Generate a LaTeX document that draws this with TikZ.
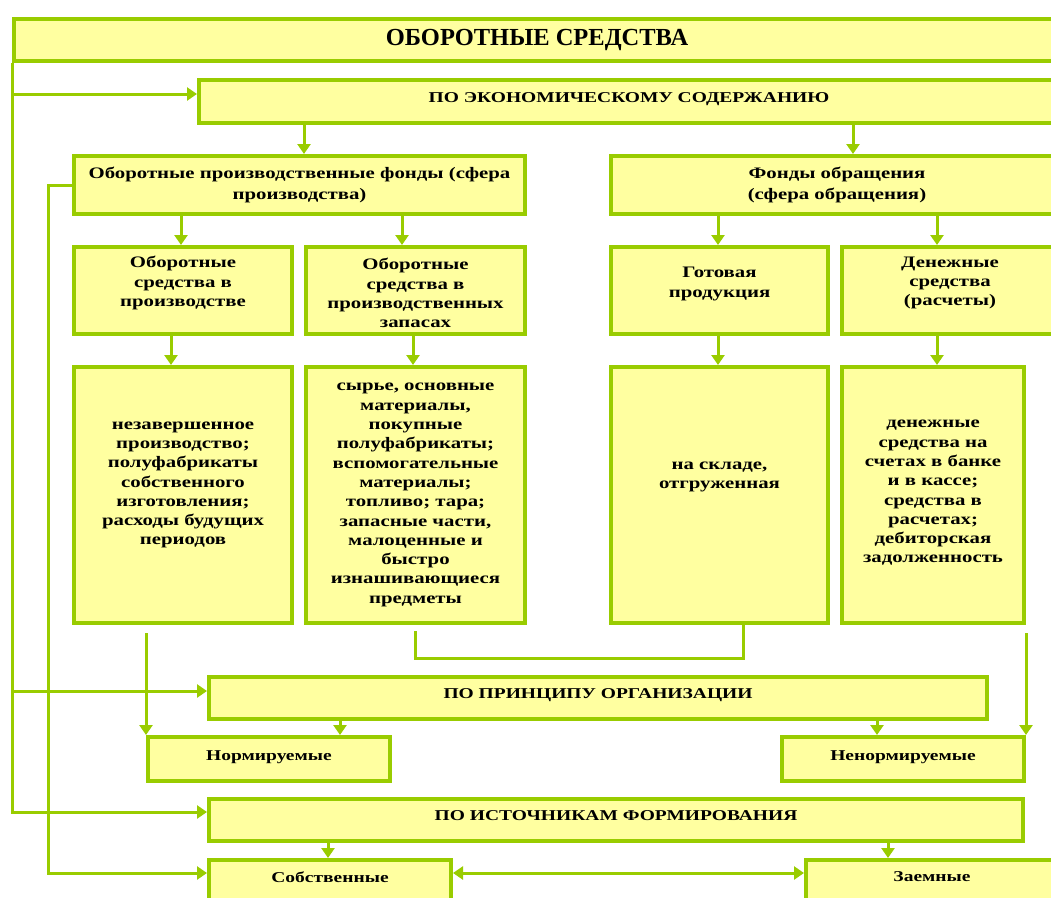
\documentclass[tikz,border=0pt]{standalone}
\usepackage{fontspec}
\setmainfont{Liberation Serif}
\newfontfamily\wf{Liberation Serif}[FakeStretch=1.3]
\usetikzlibrary{arrows.meta}
\definecolor{lgreen}{RGB}{153,204,0}
\definecolor{lyellow}{RGB}{255,255,160}
\newcommand\fA{\fontsize{16}{19.3}\selectfont}
\newcommand\fB{\fontsize{15}{18}\selectfont}
\newcommand\fC{\fontsize{16}{21}\selectfont}
\newcommand\fH{\rmfamily\fontsize{24.5}{28}\selectfont}
% name, x1, y1, x2, y2 (outer edges, px), lift, font, text
\newcommand\bx[8]{\node[box] (#1) at (#2+2,#3+2) {\parbox[c][\dimexpr #5pt-#3pt-4pt\relax][c]{\dimexpr #4pt-#2pt-4pt\relax}{\centering\wf\bfseries#7 #8\par\vspace{#6pt}}};}
\begin{document}
\begin{tikzpicture}[x=1pt,y=-1pt,
 box/.style={draw=lgreen,line width=4pt,fill=lyellow,inner sep=0pt,anchor=north west},
 conn/.style={draw=lgreen,line width=3pt},
 arr/.style={conn,-{Triangle[width=13pt,length=10pt]}},
 darr/.style={conn,{Triangle[width=13pt,length=10pt]}-{Triangle[width=13pt,length=10pt]}}]
\useasboundingbox (0,0) rectangle (1051,897);
\bx{top}{10}{15}{1060}{61}{0}{\fH}{ОБОРОТНЫЕ СРЕДСТВА}
\bx{econ}{195}{76}{1059}{123}{4}{\fB}{ПО ЭКОНОМИЧЕСКОМУ СОДЕРЖАНИЮ}
\bx{prod}{70}{152}{525}{214}{0}{\fC}{Оборотные производственные фонды (сфера\\производства)}
\bx{obr}{607}{152}{1063}{214}{0}{\fC}{Фонды обращения\\(сфера обращения)}
\bx{l3a}{70}{243}{292}{334}{15}{\fA}{Оборотные\\средства в\\производстве}
\bx{l3b}{302}{243}{525}{334}{-5}{\fA}{Оборотные\\средства в\\производственных\\запасах}
\bx{l3c}{607}{243}{828}{334}{13}{\fA}{Готовая\\продукция}
\bx{l3d}{838}{243}{1058}{334}{15}{\fA}{Денежные\\средства\\(расчеты)}
\bx{l4a}{70}{363}{292}{623}{20}{\fA}{незавершенное\\производство;\\полуфабрикаты\\собственного\\изготовления;\\расходы будущих\\периодов}
\bx{l4b}{302}{363}{525}{623}{0}{\fA}{сырье, основные\\материалы,\\покупные\\полуфабрикаты;\\вспомогательные\\материалы;\\топливо; тара;\\запасные части,\\малоценные и\\быстро\\изнашивающиеся\\предметы}
\bx{l4c}{607}{363}{828}{623}{36}{\fA}{на складе,\\отгруженная}
\bx{l4d}{838}{363}{1024}{623}{4}{\fA}{денежные\\средства на\\счетах в банке\\и в кассе;\\средства в\\расчетах;\\дебиторская\\задолженность}
\bx{prin}{205}{673}{987}{719}{6}{\fB}{ПО ПРИНЦИПУ ОРГАНИЗАЦИИ}
\bx{norm}{144}{733}{390}{781}{4}{\fB}{Нормируемые}
\bx{nenorm}{778}{733}{1024}{781}{4}{\fB}{Ненормируемые}
\bx{ist}{205}{795}{1023}{841}{8}{\fB}{ПО ИСТОЧНИКАМ ФОРМИРОВАНИЯ}
\bx{sob}{205}{856}{451}{900}{6}{\fB}{Собственные}
\bx{zaem}{802}{856}{1058}{900}{6}{\fB}{Заемные}
% left trunk
\coordinate (e1) at ([yshift=7.5pt]econ.west);
\coordinate (p1) at ([yshift=7pt]prin.west);
\coordinate (i1) at ([yshift=8pt]ist.west);
\draw[arr] (top.south west) |- (i1);
\draw[arr] (e1 -| top.south west) -- (e1);
\draw[arr] (p1 -| top.south west) -- (p1);
% second trunk
\path (prod.west) ++(-24,0) coordinate (tr2);
\coordinate (s1) at ([yshift=7pt]sob.west);
\draw[arr] (prod.west) -- (tr2) |- (s1);
% vertical arrows
\foreach \xx/\a/\b in {304/econ/prod, 853/econ/obr, 181/prod/l3a, 402/prod/l3b, 718/obr/l3c, 937/obr/l3d, 171/l3a/l4a, 413/l3b/l4b, 718/l3c/l4c, 937/l3d/l4d, 340/prin/norm, 877/prin/nenorm, 328/ist/sob, 888/ist/zaem}
 {\coordinate (xx) at (\xx,0); \draw[arr] (\a.south -| xx) -- (\b.north -| xx);}
% from big boxes to norm / nenorm
\coordinate (g1) at ([yshift=-8pt]l4a.south);
\draw[arr] (g1 -| norm.north west) -- (norm.north west);
\coordinate (g4) at ([yshift=-8pt]l4d.south);
\draw[arr] (g4 -| nenorm.north east) -- (nenorm.north east);
% link l4b - l4c
\coordinate (g2) at ([yshift=-6pt]l4b.south);
\coordinate (c1) at (743,658);
\draw[conn] (g2) |- (c1) -- (c1 |- l4c.south);
% double arrow
\coordinate (d1) at ([yshift=7pt]sob.east);
\draw[darr] (d1) -- (d1 -| zaem.west);
\end{tikzpicture}
\end{document}
